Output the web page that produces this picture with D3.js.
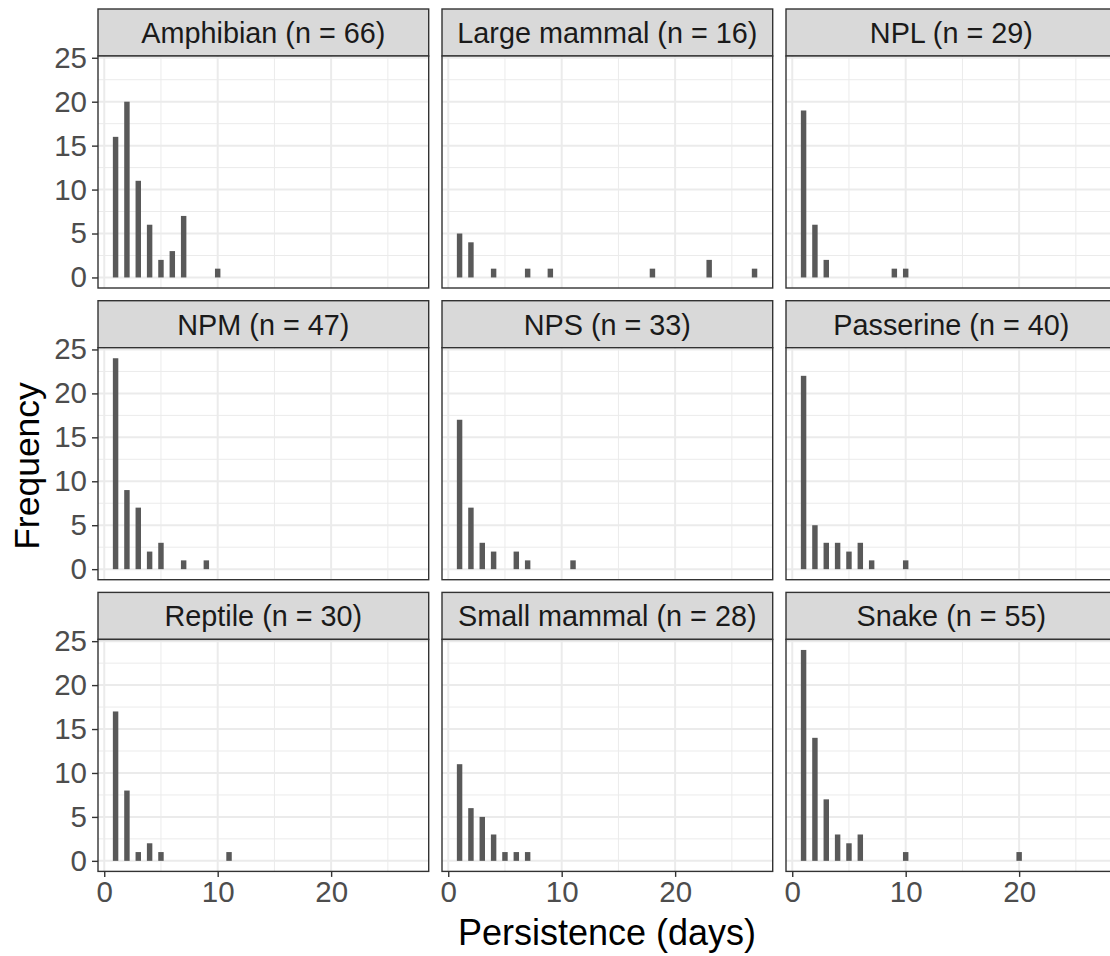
<!DOCTYPE html>
<html>
<head>
<style>
  body { margin: 0; background: #fff; }
  text { font-family: "Liberation Sans", Arial, sans-serif; }
</style>
</head>
<body>

<script src="https://d3js.org/d3.v7.min.js"></script>
<script>

const width = 1110;
const height = 956;

// facet labels and sample sizes
const groups = ['Amphibian', 'Large mammal', 'NPL', 'NPM', 'NPS', 'Passerine', 'Reptile', 'Small mammal', 'Snake'];
const sampleSizes = [66, 16, 29, 47, 33, 40, 30, 28, 55];

// persistence (days) and how often each was seen, one list per group
const persistenceDays = [
  [1, 2, 3, 4, 5, 6, 7, 10],
  [1, 2, 4, 7, 9, 18, 23, 27],
  [1, 2, 3, 9, 10],
  [1, 2, 3, 4, 5, 7, 9],
  [1, 2, 3, 4, 6, 7, 11],
  [1, 2, 3, 4, 5, 6, 7, 10],
  [1, 2, 3, 4, 5, 11],
  [1, 2, 3, 4, 5, 6, 7],
  [1, 2, 3, 4, 5, 6, 10, 20]
];
const frequencies = [
  [16, 20, 11, 6, 2, 3, 7, 1],
  [5, 4, 1, 1, 1, 1, 2, 1],
  [19, 6, 2, 1, 1],
  [24, 9, 7, 2, 3, 1, 1],
  [17, 7, 3, 2, 2, 1, 1],
  [22, 5, 3, 3, 2, 3, 1, 1],
  [17, 8, 1, 2, 1, 1],
  [11, 6, 5, 3, 1, 1, 1],
  [24, 14, 7, 3, 2, 3, 1, 1]
];

const xTicks = [0, 10, 20];
const yTicks = [0, 5, 10, 15, 20, 25];

// layout
const marginLeft = 98, marginTop = 9;
const panelW = 330.7, gapX = 13.3;
const stripH = 47, bodyH = 232, gapY = 12.7;
const nCol = 3;

const svg = d3.select('body')
              .append('svg')
              .attr('width', width)
              .attr('height', height);

const x = d3.scaleLinear().domain([-0.55, 28.6]).range([0, panelW]);
const y = d3.scaleLinear().domain([-1.2, 25.2]).range([bodyH, 0]);
const barW = x(0.48) - x(0);

groups.forEach((name, i) => {
  const col = i % nCol;
  const row = Math.floor(i / nCol);
  const px = marginLeft + col * (panelW + gapX);
  const py = marginTop + row * (stripH + bodyH + gapY);

  const g = svg.append('g').attr('transform', `translate(${px},${py})`);

  // strip
  g.append('rect')
    .attr('width', panelW).attr('height', stripH)
    .attr('fill', '#D9D9D9').attr('stroke', '#333333').attr('stroke-width', 1.4);
  g.append('text')
    .attr('x', panelW / 2).attr('y', stripH / 2 + 10.5)
    .attr('text-anchor', 'middle')
    .attr('font-size', 28.8)
    .attr('fill', '#1A1A1A')
    .text(`${name} (n = ${sampleSizes[i]})`);

  const body = g.append('g').attr('transform', `translate(0,${stripH})`);
  body.append('rect').attr('width', panelW).attr('height', bodyH).attr('fill', '#fff');

  // grid
  const minorX = [5, 15, 25];
  const minorY = [2.5, 7.5, 12.5, 17.5, 22.5];
  body.selectAll('.mx').data(minorX).enter().append('line')
    .attr('x1', d => x(d)).attr('x2', d => x(d)).attr('y1', 0).attr('y2', bodyH)
    .attr('stroke', '#EBEBEB').attr('stroke-width', 1);
  body.selectAll('.my').data(minorY).enter().append('line')
    .attr('y1', d => y(d)).attr('y2', d => y(d)).attr('x1', 0).attr('x2', panelW)
    .attr('stroke', '#EBEBEB').attr('stroke-width', 1);
  body.selectAll('.gx').data(xTicks).enter().append('line')
    .attr('x1', d => x(d)).attr('x2', d => x(d)).attr('y1', 0).attr('y2', bodyH)
    .attr('stroke', '#EBEBEB').attr('stroke-width', 2);
  body.selectAll('.gy').data(yTicks).enter().append('line')
    .attr('y1', d => y(d)).attr('y2', d => y(d)).attr('x1', 0).attr('x2', panelW)
    .attr('stroke', '#EBEBEB').attr('stroke-width', 2);

  // bars
  const bars = persistenceDays[i].map((d, j) => ({ day: d, count: frequencies[i][j] }));
  body.selectAll('.bar').data(bars).enter().append('rect')
    .attr('x', d => x(d.day) - barW / 2)
    .attr('width', barW)
    .attr('y', d => y(d.count))
    .attr('height', d => y(0) - y(d.count))
    .attr('fill', '#595959');

  body.append('rect')
    .attr('width', panelW).attr('height', bodyH)
    .attr('fill', 'none').attr('stroke', '#333333').attr('stroke-width', 1.4);

  // y axis on left column
  if (col === 0) {
    const ax = body.append('g')
      .call(d3.axisLeft(y).tickValues(yTicks).tickSize(6).tickPadding(5));
    ax.select('.domain').remove();
    ax.selectAll('line').attr('stroke', '#333333').attr('stroke-width', 1.4);
    ax.selectAll('text').attr('font-size', 29.5).attr('fill', '#4D4D4D')
      .attr('font-family', '"Liberation Sans", Arial, sans-serif');
  }
  // x axis on bottom row
  if (row === 2) {
    const ax = body.append('g').attr('transform', `translate(0,${bodyH})`)
      .call(d3.axisBottom(x).tickValues(xTicks).tickSize(5.5).tickPadding(4));
    ax.select('.domain').remove();
    ax.selectAll('line').attr('stroke', '#333333').attr('stroke-width', 1.4);
    ax.selectAll('text').attr('font-size', 29.5).attr('fill', '#4D4D4D')
      .attr('font-family', '"Liberation Sans", Arial, sans-serif');
  }
});

// axis titles
svg.append('text')
  .attr('x', 607).attr('y', 945)
  .attr('text-anchor', 'middle')
  .attr('font-size', 36)
  .attr('fill', '#000')
  .text('Persistence (days)');

svg.append('text')
  .attr('transform', 'translate(39,466) rotate(-90)')
  .attr('text-anchor', 'middle')
  .attr('font-size', 35.5)
  .attr('fill', '#000')
  .text('Frequency');

</script>
</body>
</html>
